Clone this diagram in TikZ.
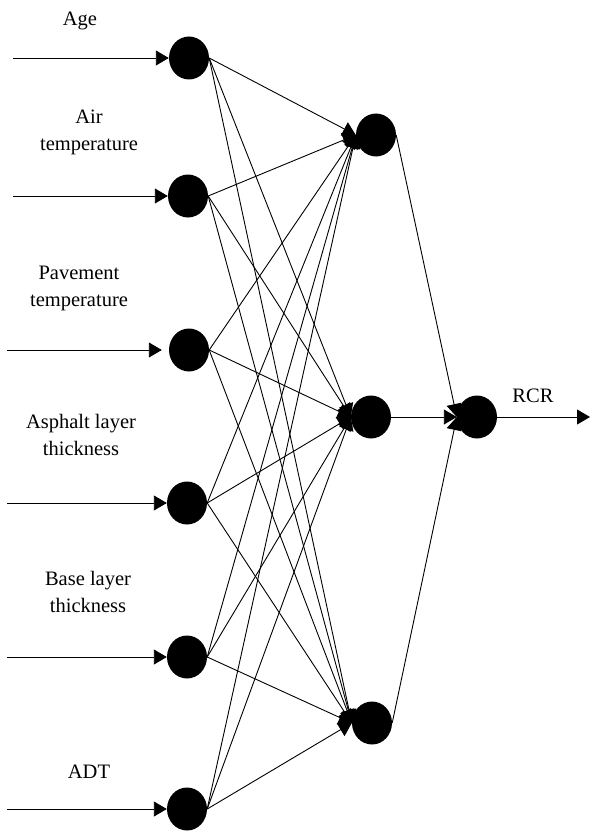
\documentclass[tikz,border=0pt]{standalone}
\usepackage{fontspec}
\setmainfont{Liberation Serif}
\usetikzlibrary{arrows.meta, shapes.geometric}

\begin{document}
\begin{tikzpicture}[x=1pt, y=-1pt, >={Triangle[length=13pt, width=15pt]},
    neuron/.style={ellipse, fill=black, minimum width=40pt, minimum height=43pt, inner sep=0pt},
    label/.style={align=center, anchor=base, font=\fontsize{20.5}{27}\selectfont},
    link/.style={->, line width=0.9pt}]
  \useasboundingbox (0,0) rectangle (590,832);

  % Input layer
  \node[neuron] (in1) at (189,58) {};
  \node[neuron] (in2) at (188,196) {};
  \node[neuron] (in3) at (189,350) {};
  \node[neuron] (in4) at (187,503) {};
  \node[neuron] (in5) at (187,657) {};
  \node[neuron] (in6) at (187,809) {};

  % Hidden layer and output
  \node[neuron] (h1) at (376,135) {};
  \node[neuron] (h2) at (371,417) {};
  \node[neuron] (h3) at (372,723) {};
  \node[neuron] (out) at (477,417) {};

  % Input names
  \node[label] (l1) at (80,26) {Age};
  \node[label] (l2) at (89,150) {Air\\temperature};
  \node[label] (l3) at (79,306) {Pavement\\temperature};
  \node[label] (l4) at (81,455) {Asphalt layer\\thickness};
  \node[label] (l5) at (88,612) {Base layer\\thickness};
  \node[label] (l6) at (89,778) {ADT};
  \node[label] (lout) at (533,402) {RCR};

  % Incoming arrows
  \coordinate (s1) at (13,58);
  \coordinate (s2) at (13,196);
  \coordinate (s3) at (7,350);
  \coordinate (s4) at (7,503);
  \coordinate (s5) at (7,657);
  \coordinate (s6) at (7,809);
  \coordinate (e) at (590,417);
  \draw[link] (s1) -- (in1);
  \draw[link] (s2) -- (in2);
  \draw[link, shorten >=7pt] (s3) -- (in3);
  \draw[link] (s4) -- (in4);
  \draw[link] (s5) -- (in5);
  \draw[link] (s6) -- (in6);

  % Input to hidden
  \draw[link] (in1.east) -- (h1.west); \draw[link] (in1.east) -- (h2.west); \draw[link] (in1.east) -- (h3.west);
  \draw[link] (in2.east) -- (h1.west); \draw[link] (in2.east) -- (h2.west); \draw[link] (in2.east) -- (h3.west);
  \draw[link] (in3.east) -- (h1.west); \draw[link] (in3.east) -- (h2.west); \draw[link] (in3.east) -- (h3.west);
  \draw[link] (in4.east) -- (h1.west); \draw[link] (in4.east) -- (h2.west); \draw[link] (in4.east) -- (h3.west);
  \draw[link] (in5.east) -- (h1.west); \draw[link] (in5.east) -- (h2.west); \draw[link] (in5.east) -- (h3.west);
  \draw[link] (in6.east) -- (h1.west); \draw[link] (in6.east) -- (h2.west); \draw[link] (in6.east) -- (h3.west);

  % Hidden to output
  \draw[link] (h1.east) -- (out.west);
  \draw[link] (h2.east) -- (out.west);
  \draw[link] (h3.east) -- (out.west);
  \draw[link] (out) -- (e);
\end{tikzpicture}
\end{document}
